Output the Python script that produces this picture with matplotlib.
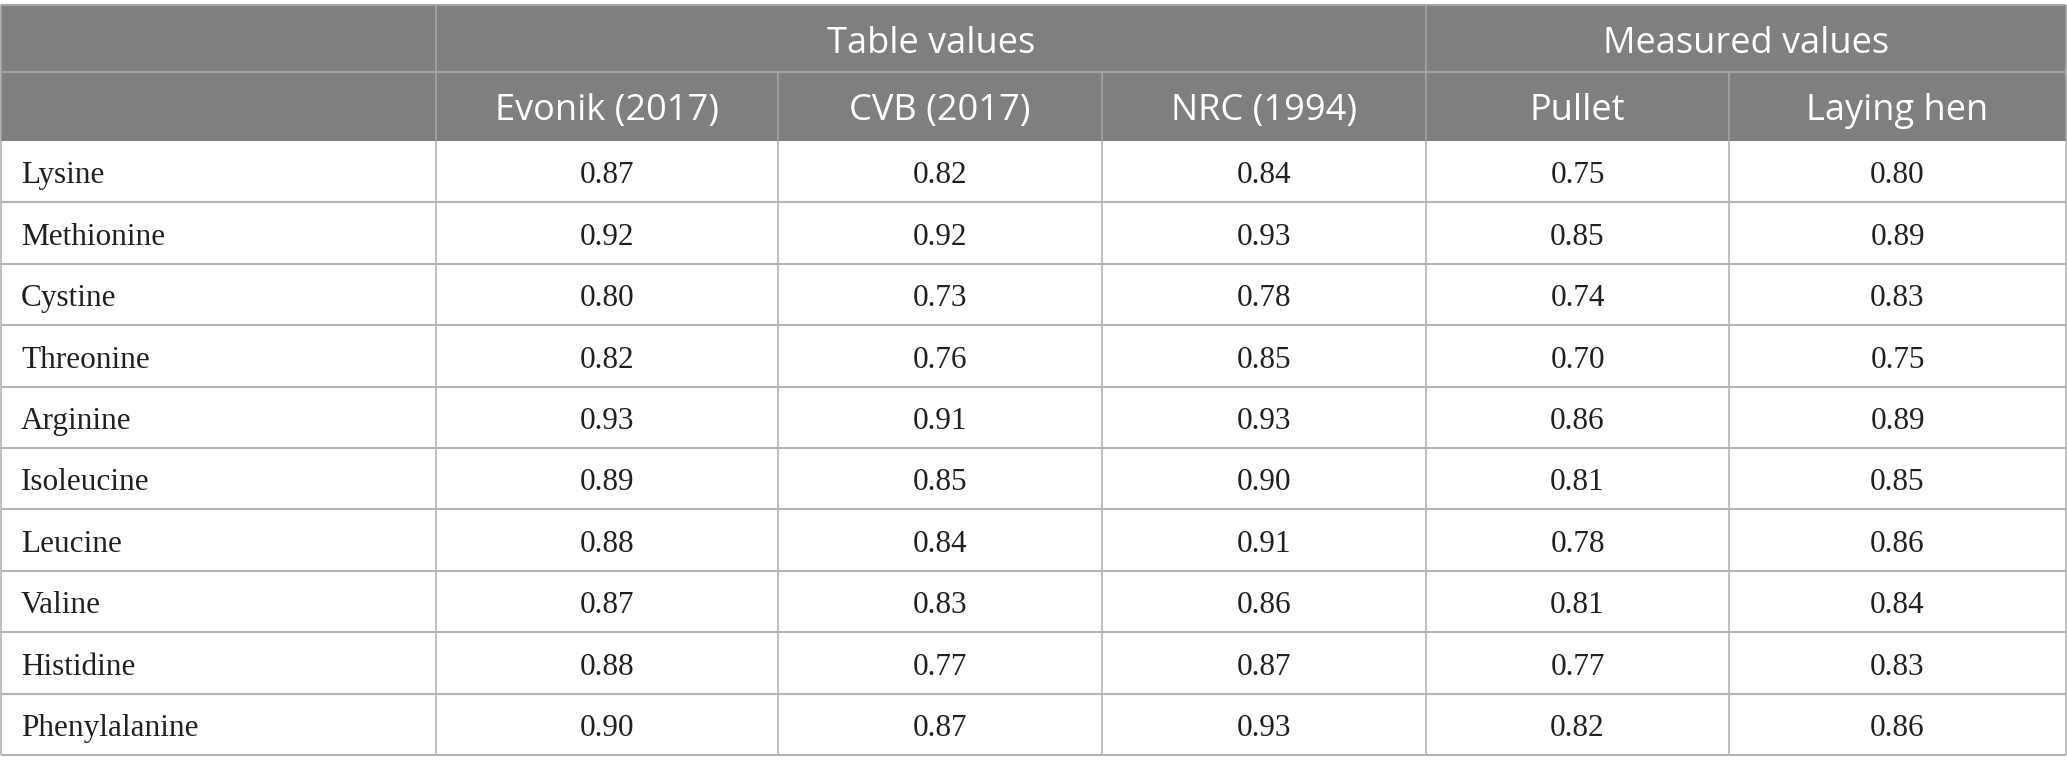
import matplotlib.pyplot as plt
from matplotlib.patches import Rectangle

amino_acids = ['Lysine', 'Methionine', 'Cystine', 'Threonine', 'Arginine',
               'Isoleucine', 'Leucine', 'Valine', 'Histidine', 'Phenylalanine']
evonik_2017 = [0.87, 0.92, 0.80, 0.82, 0.93, 0.89, 0.88, 0.87, 0.88, 0.90]
cvb_2017 = [0.82, 0.92, 0.73, 0.76, 0.91, 0.85, 0.84, 0.83, 0.77, 0.87]
nrc_1994 = [0.84, 0.93, 0.78, 0.85, 0.93, 0.90, 0.91, 0.86, 0.87, 0.93]
pullet = [0.75, 0.85, 0.74, 0.70, 0.86, 0.81, 0.78, 0.81, 0.77, 0.82]
laying_hen = [0.80, 0.89, 0.83, 0.75, 0.89, 0.85, 0.86, 0.84, 0.83, 0.86]

col_labels = ['Evonik (2017)', 'CVB (2017)', 'NRC (1994)', 'Pullet', 'Laying hen']
group_labels = ['Table values', 'Measured values']
group_spans = [(1, 4), (4, 6)]  # column index ranges

columns = [evonik_2017, cvb_2017, nrc_1994, pullet, laying_hen]

W, H = 2067, 772
col_x = [1, 436, 778, 1102, 1426, 1729, 2066]
top, mid, head_bot, bottom = 5, 72, 141, 755
row_h = (bottom - head_bot) / len(amino_acids)

header_bg = '#7f807e'
header_line = '#a3a4a2'
grid_col = '#b4b4b4'
text_col = '#231f20'

fig = plt.figure(figsize=(W / 100, H / 100), dpi=100)
ax = fig.add_axes([0, 0, 1, 1])
ax.set_xlim(0, W)
ax.set_ylim(H, 0)
ax.axis('off')

# header background
ax.add_patch(Rectangle((col_x[0], top), col_x[-1] - col_x[0], head_bot - top,
                       facecolor=header_bg, edgecolor='none'))
ax.hlines([top, mid], col_x[0], col_x[-1], color=header_line, lw=1.5)
ax.vlines([col_x[1], col_x[4]], top, mid, color=header_line, lw=1.2)
ax.vlines(col_x[1:-1], mid, head_bot, color=header_line, lw=1.2)

sans = ['Open Sans', 'DejaVu Sans']
serif = ['Liberation Serif', 'DejaVu Serif']

for lab, (a, b) in zip(group_labels, group_spans):
    ax.text((col_x[a] + col_x[b]) / 2, mid - 19, lab, ha='center', va='baseline',
            color='white', fontsize=26, family=sans)
for j, lab in enumerate(col_labels):
    ax.text((col_x[j + 1] + col_x[j + 2]) / 2, head_bot - 21, lab,
            ha='center', va='baseline', color='white', fontsize=26, family=sans)

# body grid
ys = [head_bot + i * row_h for i in range(len(amino_acids) + 1)]
ax.hlines(ys[1:], col_x[0], col_x[-1], color=grid_col, lw=1.5)
ax.vlines(col_x, head_bot, bottom, color=grid_col, lw=1.2)
ax.vlines([col_x[0], col_x[-1]], top, head_bot, color=header_line, lw=1.2)

for i, name in enumerate(amino_acids):
    yb = ys[i + 1] - 19
    ax.text(21, yb, name, ha='left', va='baseline', color=text_col, fontsize=22.5, family=serif)
    for j, vals in enumerate(columns):
        ax.text((col_x[j + 1] + col_x[j + 2]) / 2, yb, f'{vals[i]:.2f}', ha='center',
                va='baseline', color=text_col, fontsize=22.5, family=serif)

fig.savefig('out.png', dpi=100, facecolor='white')
